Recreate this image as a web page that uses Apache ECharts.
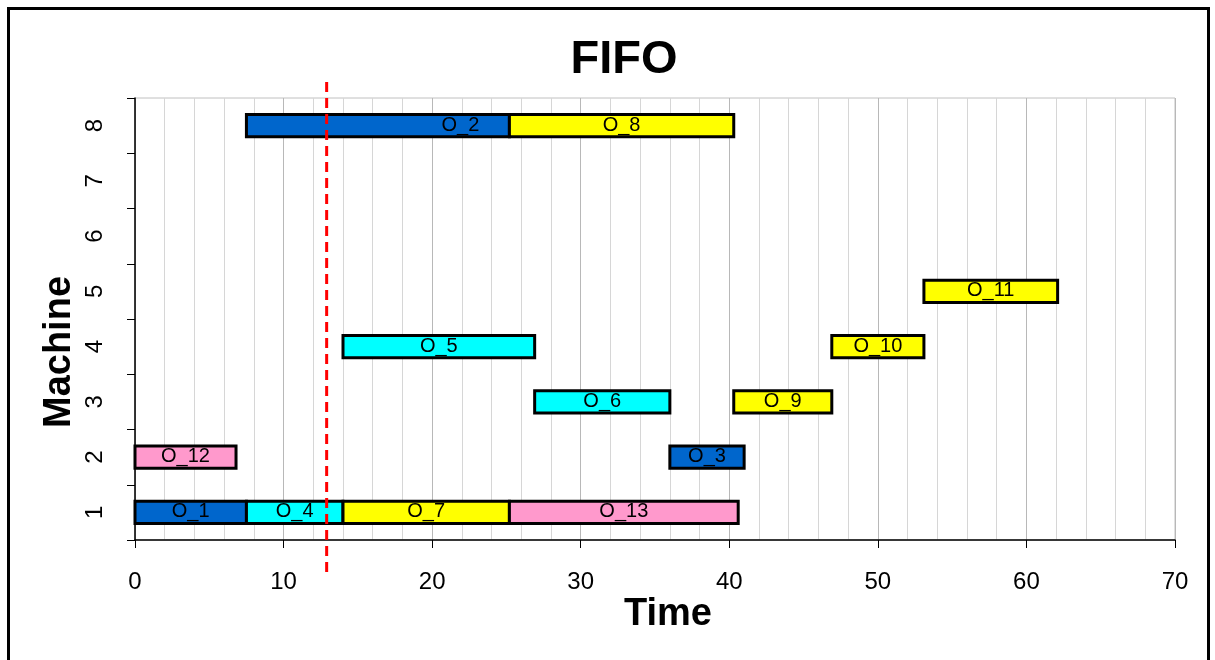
<!DOCTYPE html>
<html>
<head>
<meta charset="utf-8">
<title>FIFO</title>
<script src="https://cdn.jsdelivr.net/npm/echarts@6/dist/echarts.min.js"></script>
<style>
  html, body { margin: 0; padding: 0; background: #fff; }
  #chart { width: 1215px; height: 660px; }
</style>
</head>
<body>
<div id="chart"></div>
<script>
// Operations scheduled first-in-first-out on 8 machines
const operations = ['O_1', 'O_4', 'O_7', 'O_13', 'O_12', 'O_3', 'O_6', 'O_9', 'O_5', 'O_10', 'O_11', 'O_2', 'O_8'];
const machines   = [1, 1, 1, 1, 2, 2, 3, 3, 4, 4, 5, 8, 8];
const startTimes = [0, 7.5, 14.0, 25.2, 0, 36.0, 26.9, 40.3, 14.0, 46.9, 53.1, 7.5, 25.2];
const endTimes   = [7.5, 14.0, 25.2, 40.6, 6.8, 41.0, 36.0, 46.9, 26.9, 53.1, 62.1, 25.2, 40.3];
const jobs       = [1, 2, 3, 4, 4, 1, 2, 3, 2, 3, 3, 1, 3];
const machineLabels = ['1', '2', '3', '4', '5', '6', '7', '8'];
const currentTime = 12.9;

const jobColors = { 1: '#0066CC', 2: '#00FFFF', 3: '#FFFF00', 4: '#FF99CC' };
// the O_2 label sits toward the end of its bar
const labelTime = { 'O_2': 21.9 };

const seriesData = operations.map((op, i) => [startTimes[i], endTimes[i], machines[i] - 1, op, jobs[i]]);

const chart = echarts.init(document.getElementById('chart'));
const font = 'Arial, "Liberation Sans", sans-serif';

chart.setOption({
  animation: false,
  backgroundColor: '#fff',
  graphic: [
    {
      type: 'rect',
      shape: { x: 8.5, y: 8.5, width: 1200, height: 700 },
      style: { fill: 'none', stroke: '#000', lineWidth: 3 },
      z: 100
    },
    {
      type: 'text',
      x: 624, y: 60,
      style: {
        text: 'FIFO', align: 'center', verticalAlign: 'middle',
        fontFamily: font, fontSize: 47, fontWeight: 'bold', fill: '#000'
      }
    },
    {
      type: 'text',
      x: 668, y: 615,
      style: {
        text: 'Time', align: 'center', verticalAlign: 'middle',
        fontFamily: font, fontSize: 38, fontWeight: 'bold', fill: '#000'
      }
    },
    {
      type: 'text',
      x: 60, y: 352,
      rotation: Math.PI / 2,
      style: {
        text: 'Machine', align: 'center', verticalAlign: 'middle',
        fontFamily: font, fontSize: 38, fontWeight: 'bold', fill: '#000'
      }
    }
  ],
  grid: {
    left: 135, right: 40, top: 98, bottom: 120,
    show: true, borderColor: '#c0c0c0', borderWidth: 1, backgroundColor: 'transparent'
  },
  xAxis: {
    type: 'value',
    min: 0, max: 70, interval: 10,
    axisLine: { show: true, lineStyle: { color: '#000', width: 1.5 } },
    axisTick: { show: true, length: 8, lineStyle: { color: '#000' } },
    axisLabel: { fontFamily: font, fontSize: 24, color: '#000', margin: 30 },
    splitLine: { show: true, lineStyle: { color: '#b8b8b8', width: 1 } },
    minorTick: { show: false, splitNumber: 5 },
    minorSplitLine: { show: true, lineStyle: { color: '#d6d6d6', width: 1 } }
  },
  yAxis: {
    type: 'category',
    data: machineLabels,
    boundaryGap: true,
    axisLine: { show: true, lineStyle: { color: '#000', width: 1.5 } },
    axisTick: { show: true, length: 8, alignWithLabel: false, lineStyle: { color: '#000' } },
    axisLabel: { fontFamily: font, fontSize: 24, color: '#000', rotate: 90, margin: 28 },
    splitLine: { show: false }
  },
  series: [
    {
      type: 'custom',
      data: seriesData,
      encode: { x: [0, 1], y: 2 },
      renderItem: function (params, api) {
        const machineIdx = api.value(2);
        const p0 = api.coord([api.value(0), machineIdx]);
        const p1 = api.coord([api.value(1), machineIdx]);
        const h = api.size([0, 1])[1] * 0.4;
        const name = seriesData[params.dataIndex][3];
        const job = seriesData[params.dataIndex][4];
        const lx = labelTime[name] !== undefined ? api.coord([labelTime[name], machineIdx])[0] : (p0[0] + p1[0]) / 2;
        return {
          type: 'group',
          children: [
            {
              type: 'rect',
              shape: { x: p0[0], y: p0[1] - h / 2, width: p1[0] - p0[0], height: h },
              style: { fill: jobColors[job], stroke: '#000', lineWidth: 3 }
            },
            {
              type: 'text',
              style: {
                x: lx, y: p0[1] - 0.5,
                text: name,
                align: 'center', verticalAlign: 'middle',
                fontFamily: font, fontSize: 20, fill: '#000'
              },
              z2: 10
            }
          ]
        };
      },
      z: 3
    },
    {
      // current-time marker
      type: 'custom',
      data: [[currentTime]],
      encode: { x: 0 },
      clip: false,
      renderItem: function (params, api) {
        const cs = params.coordSys;
        const x = api.coord([api.value(0), 0])[0];
        return {
          type: 'line',
          shape: { x1: x, y1: cs.y - 16, x2: x, y2: cs.y + cs.height + 38 },
          style: { stroke: '#FF0000', lineWidth: 3, lineDash: [10, 6] }
        };
      },
      z: 5
    }
  ]
});
</script>
</body>
</html>
